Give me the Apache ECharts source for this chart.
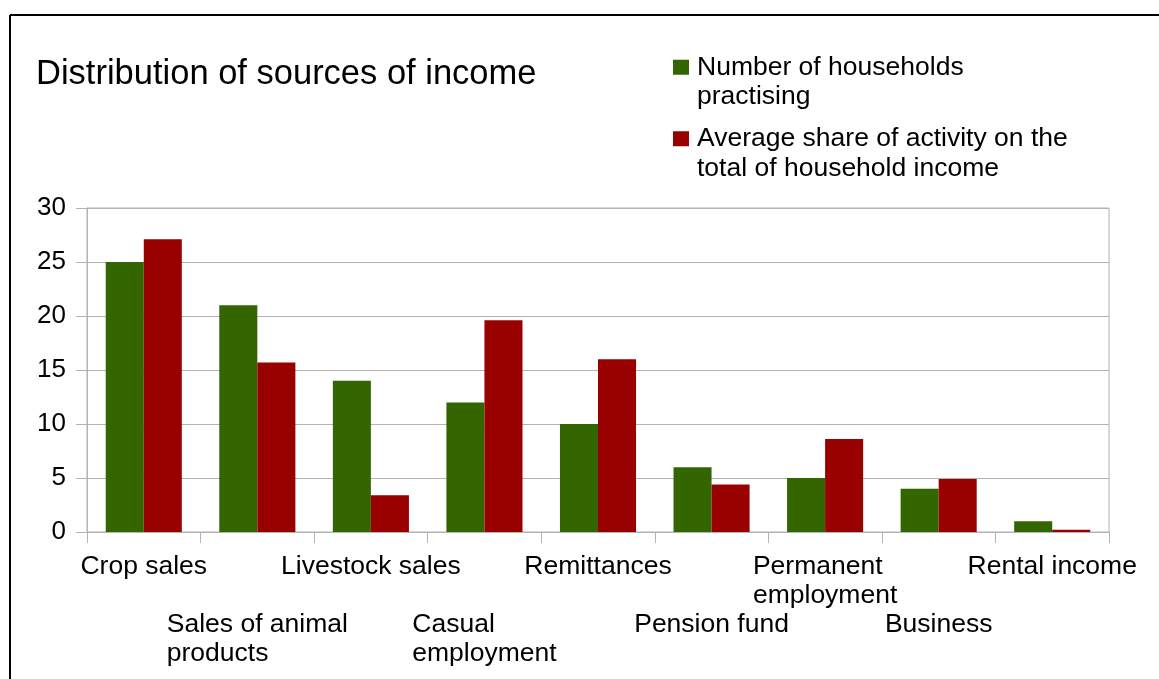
<!DOCTYPE html>
<html>
<head>
<meta charset="utf-8">
<title>Distribution of sources of income</title>
<script src="https://cdn.jsdelivr.net/npm/echarts@6/dist/echarts.min.js"></script>
<style>
  html, body { margin: 0; padding: 0; background: #fff; }
  #chart { width: 1159px; height: 679px; }
</style>
</head>
<body>
<div id="chart"></div>
<script>
// data
var categories = [
  'Crop sales', 'Sales of animal products', 'Livestock sales',
  'Casual employment', 'Remittances', 'Pension fund',
  'Permanent employment', 'Business', 'Rental income'
];
var households = [25, 21, 14, 12, 10, 6, 5, 4, 1];
var incomeShare = [27.1, 15.7, 3.4, 19.6, 16, 4.4, 8.6, 4.9, 0.2];
var yTicks = [0, 5, 10, 15, 20, 25, 30];

var seriesNames = [
  'Number of households practising',
  'Average share of activity on the total of household income'
];
// how the long names break in the legend / axis
var legendLines = {
  'Number of households practising': ['Number of households', 'practising'],
  'Average share of activity on the total of household income': ['Average share of activity on the', 'total of household income']
};
var labelLines = {
  'Sales of animal products': ['Sales of animal', 'products'],
  'Casual employment': ['Casual', 'employment'],
  'Permanent employment': ['Permanent', 'employment']
};

var font = '"Liberation Sans", Arial, sans-serif';
var gridColor = '#b3b3b3';

var chart = echarts.init(document.getElementById('chart'));

var option = {
  animation: false,
  textStyle: { fontFamily: font, color: '#000' },
  title: {
    text: 'Distribution of sources of income',
    left: 36,
    top: 57,
    padding: 0,
    textStyle: { fontSize: 34.5, fontWeight: 'normal', color: '#000', fontFamily: font }
  },
  legend: {
    orient: 'vertical',
    left: 673,
    top: 23,
    padding: 0,
    itemGap: -17,
    itemWidth: 16,
    itemHeight: 15,
    icon: 'rect',
    data: seriesNames,
    // leading empty line keeps the swatch level with the first text line
    formatter: function (name) { return '\n' + legendLines[name].join('\n'); },
    textStyle: { fontSize: 26.5, lineHeight: 29.5, color: '#000', padding: [0, 0, 0, 3] }
  },
  graphic: [
    { type: 'line', shape: { x1: 10, y1: 15, x2: 1159, y2: 15 }, style: { stroke: '#000', lineWidth: 2 } },
    { type: 'line', shape: { x1: 10, y1: 15, x2: 10, y2: 679 }, style: { stroke: '#000', lineWidth: 2 } }
  ],
  grid: {
    left: 87,
    right: 50,
    top: 208,
    bottom: 147,
    show: true,
    borderColor: gridColor,
    borderWidth: 1
  },
  xAxis: {
    type: 'category',
    data: categories,
    axisLine: { lineStyle: { color: gridColor } },
    axisTick: { show: true, interval: 0, length: 11, lineStyle: { color: gridColor } },
    axisLabel: {
      interval: 0,
      margin: 20,
      fontSize: 26.5,
      lineHeight: 29,
      color: '#000',
      formatter: function (value, idx) {
        var lines = labelLines[value] || [value];
        var txt = lines.map(function (l) { return '{l|' + l + '}'; }).join('\n');
        return idx % 2 === 1 ? '\n\n' + txt : txt;
      },
      rich: {
        l: { align: 'left', fontSize: 26.5, lineHeight: 29, color: '#000', fontFamily: font }
      }
    }
  },
  yAxis: {
    type: 'value',
    min: yTicks[0],
    max: yTicks[yTicks.length - 1],
    interval: 5,
    axisLine: { show: true, lineStyle: { color: gridColor } },
    axisTick: { show: true, length: 11, lineStyle: { color: gridColor } },
    splitLine: { lineStyle: { color: gridColor } },
    axisLabel: { margin: 21, fontSize: 26, color: '#000' }
  },
  series: [
    {
      name: seriesNames[0],
      type: 'bar',
      data: households,
      barGap: '0%',
      barCategoryGap: '33%',
      itemStyle: { color: '#336600' }
    },
    {
      name: seriesNames[1],
      type: 'bar',
      data: incomeShare,
      itemStyle: { color: '#990000' }
    }
  ]
};

chart.setOption(option);
</script>
</body>
</html>
